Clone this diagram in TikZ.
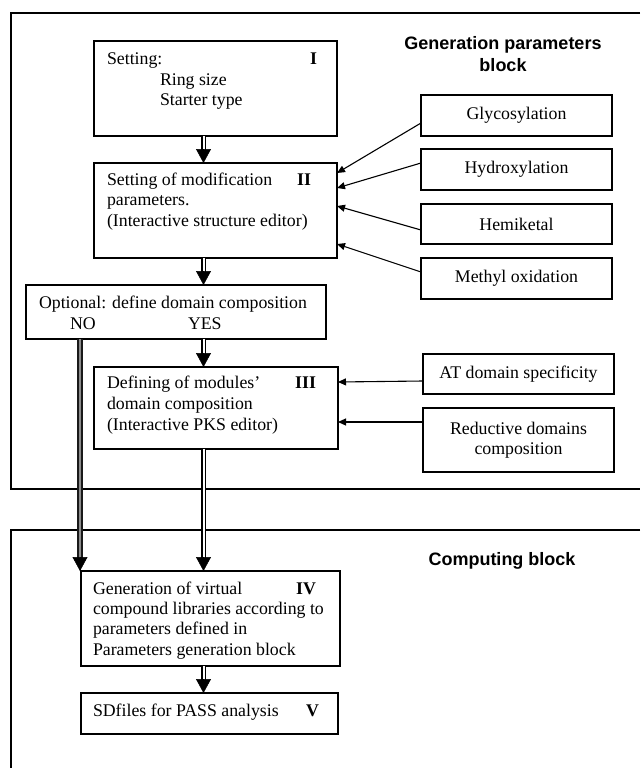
\documentclass[tikz,border=0pt]{standalone}
\usepackage{fontspec}
\setmainfont{Liberation Serif}
\newfontfamily\hdfont{Liberation Sans}
\usetikzlibrary{arrows.meta}
\tikzset{
  box/.style={draw, line width=1.3pt, inner sep=0pt, outer sep=0pt},
  rbox/.style={box, minimum width=191pt, align=center, font=\fontsize{17.8}{20.5}\selectfont},
  txt/.style={inner sep=0pt, outer sep=0pt, font=\fontsize{17.8}{20.5}\selectfont},
  num/.style={txt, font=\fontsize{17.8}{20.5}\selectfont\bfseries},
  ttl/.style={inner sep=0pt, outer sep=0pt, font=\fontsize{18}{21}\selectfont\hdfont\bfseries},
  frame/.style={line width=1.3pt},
  dshaft/.style={double, double distance=2pt, line width=1.8pt, shorten >=12pt},
  dtip/.style={line width=0.5pt, -{Triangle[length=14pt,width=15pt]}},
  sarrow/.style={line width=1.1pt, -{Triangle[length=8pt,width=7pt]}},
}
\newcommand\darr[3][]{\draw[dshaft,#1] (#2) -- (#3); \draw[dtip] (#3) ++(0,-1) -- (#3);}
\begin{document}
\begin{tikzpicture}[x=1pt,y=-1pt]
\useasboundingbox (0,0) rectangle (640,768);
% outer blocks
\draw[frame] (640,13) -- (11,13) -- (11,489) -- (640,489);
\draw[frame] (640,530) -- (11,530) -- (11,768);
% titles
\node[ttl, anchor=base] (g1) at (503,50) {Generation parameters};
\node[ttl, anchor=base] (g2) at (503,71) {block};
\node[ttl, anchor=base] (cb) at (502,565) {Computing block};
% box I
\node[box, minimum width=243pt, minimum height=95pt] (I) at (215.5,88.5) {};
\node[txt, anchor=base west] (t1a) at (107,65) {Setting:};
\node[txt, anchor=base west] (t1b) at (160,85) {Ring size};
\node[txt, anchor=base west] (t1c) at (160,105) {Starter type};
\node[num, anchor=base east] (n1) at (317,65) {I};
% box II
\node[box, minimum width=243pt, minimum height=95pt] (II) at (215.5,210.5) {};
\node[txt, anchor=base west] (t2a) at (107,185) {Setting of modification};
\node[txt, anchor=base west] (t2b) at (107,205) {parameters.};
\node[txt, anchor=base west] (t2c) at (107,226) {(Interactive structure editor)};
\node[num, anchor=base east] (n2) at (311,185) {II};
% optional box
\node[box, minimum width=300pt, minimum height=54pt] (Opt) at (176,312) {};
\node[txt, anchor=base west] (to1) at (39,308) {Optional: define domain composition};
\node[txt, anchor=base west] (to2) at (70,329) {NO};
\node[txt, anchor=base west] (to3) at (188,329) {YES};
% box III
\node[box, minimum width=244pt, minimum height=82pt] (III) at (216,408) {};
\node[txt, anchor=base west] (t3a) at (107,388) {Defining of modules’};
\node[txt, anchor=base west] (t3b) at (107,409) {domain composition};
\node[txt, anchor=base west] (t3c) at (107,430) {(Interactive PKS editor)};
\node[num, anchor=base east] (n3) at (316,388) {III};
% right boxes
\node[rbox, minimum height=41pt] (gly) at (516.5,115.5) {Glycosylation};
\node[rbox, minimum height=41pt] (hyd) at (516.5,169.5) {Hydroxylation};
\node[rbox, minimum height=40pt] (hem) at (516.5,224) {Hemiketal};
\node[rbox, minimum height=41pt] (met) at (516.5,278.5) {Methyl oxidation};
\node[rbox, minimum height=40pt] (at) at (518.5,374) {AT domain specificity};
\node[rbox, minimum height=64pt] (red) at (518.5,440) {Reductive domains\\composition};
% box IV
\node[box, minimum width=259pt, minimum height=95pt] (IV) at (210.5,618.5) {};
\node[txt, anchor=base west] (t4a) at (93,594) {Generation of virtual};
\node[txt, anchor=base west] (t4b) at (93,614) {compound libraries according to};
\node[txt, anchor=base west] (t4c) at (93,634) {parameters defined in};
\node[txt, anchor=base west] (t4d) at (93,655) {Parameters generation block};
\node[num, anchor=base east] (n4) at (316,594) {IV};
% box V
\node[box, minimum width=257pt, minimum height=41pt] (V) at (209.5,713.5) {};
\node[txt, anchor=base west] (t5a) at (93,716) {SDfiles for PASS analysis};
\node[num, anchor=base east] (n5) at (319,716) {V};
% column coordinates
\coordinate (cm) at (203.5,0);
\coordinate (cn) at (80,0);
% double arrows
\darr{I.south -| cm}{II.north -| cm}
\darr{II.south -| cm}{Opt.north -| cm}
\darr{Opt.south -| cm}{III.north -| cm}
\darr{III.south -| cm}{IV.north -| cm}
\darr{IV.south -| cm}{V.north -| cm}
\darr[draw=black!90, double=black!45]{Opt.south -| cn}{IV.north -| cn}
% single arrows
\draw[sarrow] ([yshift=-7.5pt]gly.west) -- ([yshift=37.5pt]II.east);
\draw[sarrow] ([yshift=6.5pt]hyd.west) -- ([yshift=22.5pt]II.east);
\draw[sarrow] ([yshift=-6pt]hem.west) -- ([yshift=4.5pt]II.east);
\draw[sarrow] ([yshift=6.5pt]met.west) -- ([yshift=-33.5pt]II.east);
\draw[sarrow] ([yshift=-7pt]at.west) -- ([yshift=26pt]III.east);
\draw[sarrow] ([yshift=18pt]red.west) -- ([yshift=-14pt]III.east);
\end{tikzpicture}
\end{document}
